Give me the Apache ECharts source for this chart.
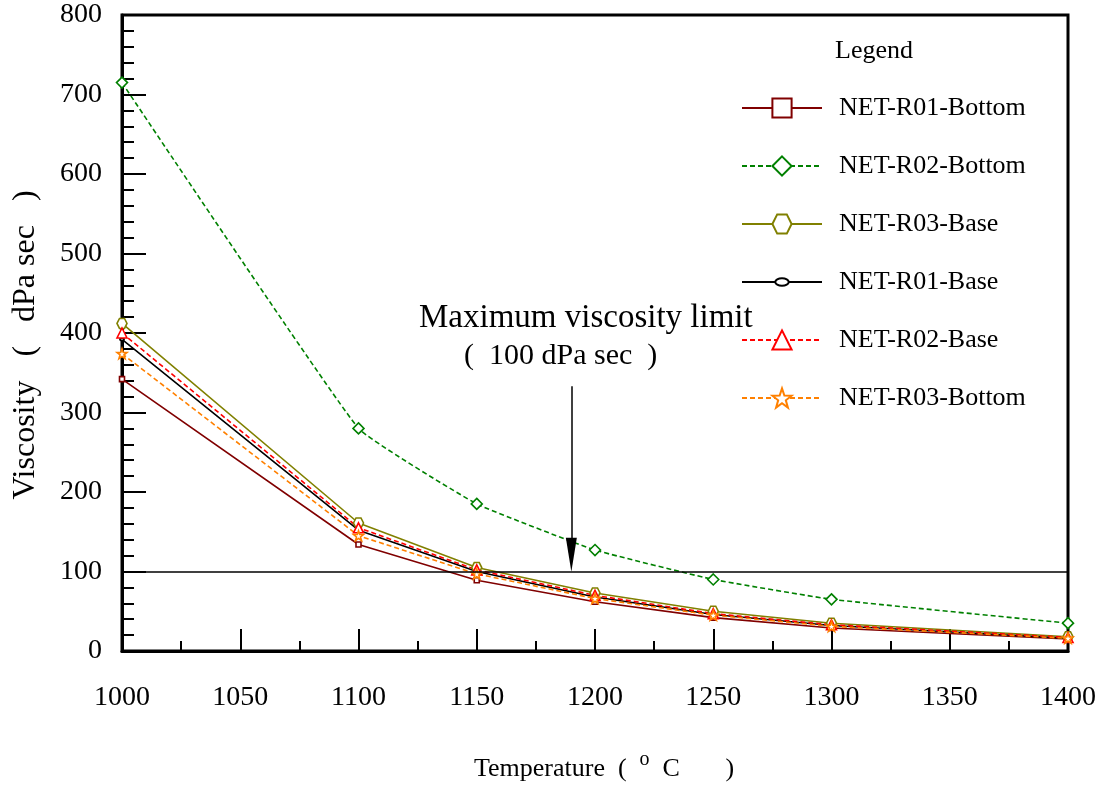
<!DOCTYPE HTML>
<html lang="en">

<head>
	<meta charset="utf-8">
	<title>Viscosity vs Temperature</title>
	<style>
		html, body { margin: 0; padding: 0; background: #fff; }
		#main { width: 1105px; height: 787px; }
	</style>
</head>

<body>
	<div id="main"></div>

	<script src="https://cdn.jsdelivr.net/npm/echarts@6/dist/echarts.min.js"></script>

	<script>
		// temperatures (deg C) where the samples were measured
		var temps = [1000, 1100, 1150, 1200, 1250, 1300, 1400];

		// viscosity (dPa sec) for each sample
		var r01Bottom = [342, 134, 89, 62, 42, 29, 15];
		var r02Bottom = [715, 280, 185, 127, 90, 65, 35];
		var r03Base = [412, 161, 105, 73, 50, 35, 18];
		var r01Base = [392, 152, 100, 68, 46, 32, 16];
		var r02Base = [400, 155, 102, 70, 47, 33, 17];
		var r03Bottom = [374, 145, 97, 66, 45, 31, 16];

		var names = ['NET-R01-Bottom', 'NET-R02-Bottom', 'NET-R03-Base', 'NET-R01-Base', 'NET-R02-Base', 'NET-R03-Bottom'];

		var hexagon = 'path://M-10,0L-5,-8.66L5,-8.66L10,0L5,8.66L-5,8.66Z';
		var star = 'path://M0,-10L2.35,-3.24L9.51,-3.09L3.8,1.24L5.88,8.09L0,4L-5.88,8.09L-3.8,1.24L-9.51,-3.09L-2.35,-3.24Z';
		var ellipse = 'path://M-10,-10M10,10M-7,0A7,4,0,1,1,7,0A7,4,0,1,1,-7,0Z';

		function pairs(vals) {
			return temps.map(function (t, i) { return [t, vals[i]]; });
		}

		function line(name, vals, color, dashed, symbol, size, smooth) {
			return {
				name: name,
				type: 'line',
				data: pairs(vals),
				smooth: smooth || false,
				symbol: symbol,
				symbolSize: size,
				showAllSymbol: true,
				lineStyle: { color: color, width: 1.6, type: dashed ? [5, 3] : 'solid' },
				itemStyle: { color: '#fff', borderColor: color, borderWidth: 1.6 }
			};
		}

		var chart = echarts.init(document.getElementById('main'));

		var serif = 'Liberation Serif';

		var series = [
			line(names[0], r01Bottom, '#800000', false, 'rect', 5),
			line(names[1], r02Bottom, '#008000', true, 'diamond', 11, 0.1),
			line(names[2], r03Base, '#808000', false, hexagon, 10),
			line(names[3], r01Base, '#000000', false, ellipse, 6),
			line(names[4], r02Base, '#ff0000', true, 'triangle', 10),
			line(names[5], r03Bottom, '#ff8000', true, star, 10)
		];

		// 100 dPa sec limit line and the arrow pointing at it
		series[0].markLine = {
			silent: true,
			symbol: ['none', 'none'],
			label: { show: false },
			lineStyle: { color: '#000', type: 'solid', width: 1.5 },
			data: [
				{ yAxis: 100 },
				[
					{ coord: [1190, 333], symbol: 'none' },
					{ coord: [1190, 121], symbol: 'triangle', symbolSize: [11, 34] }
				]
			]
		};

		chart.setOption({
			animation: false,
			textStyle: { fontFamily: serif, color: '#000' },
			grid: {
				left: 122, top: 15, width: 946, height: 643,
				show: true, borderColor: '#000', borderWidth: 3
			},
			legend: {
				orient: 'vertical',
				left: 741, top: 95, padding: 0,
				itemWidth: 80, itemHeight: 24, itemGap: 32,
				textStyle: { fontFamily: serif, fontSize: 26, color: '#000', padding: [0, 0, 0, 12] },
				data: names
			},
			graphic: [
				{ type: 'text', left: 835, top: 38, style: { text: 'Legend', font: '26px "Liberation Serif"', fill: '#000' } },
				{ type: 'text', left: 419, top: 302, style: { text: 'Maximum viscosity limit', font: '33px "Liberation Serif"', fill: '#000' } },
				{ type: 'text', left: 464, top: 341, style: { text: '(  100 dPa sec  )', font: '30px "Liberation Serif"', fill: '#000' } }
			],
			xAxis: {
				type: 'value',
				min: 1000, max: 1400, interval: 50,
				name: 'Temperature  (  {s|o}  C       )',
				nameLocation: 'middle',
				nameGap: 99,
				nameTextStyle: {
					fontFamily: serif, fontSize: 26, color: '#000', padding: [0, 0, 0, 18],
					rich: { s: { fontFamily: serif, fontSize: 20, padding: [0, 0, 18, 0] } }
				},
				axisLine: { lineStyle: { color: '#000', width: 3 } },
				axisTick: { inside: true, length: 22, lineStyle: { color: '#000', width: 2 } },
				minorTick: { show: true, splitNumber: 2, length: 10, lineStyle: { color: '#000', width: 2 } },
				axisLabel: {
					fontFamily: serif, fontSize: 28, color: '#000', margin: 33,
					formatter: function (v) { return String(v); }
				},
				splitLine: { show: false }
			},
			yAxis: {
				type: 'value',
				min: 0, max: 800, interval: 100,
				name: 'Viscosity   (   dPa sec   )',
				nameLocation: 'middle',
				nameGap: 80,
				nameTextStyle: { fontFamily: serif, fontSize: 32, color: '#000', padding: [0, 24, 0, 0] },
				axisLine: { lineStyle: { color: '#000', width: 3 } },
				axisTick: { inside: true, length: 24, lineStyle: { color: '#000', width: 2 } },
				minorTick: { show: true, splitNumber: 5, length: 12, lineStyle: { color: '#000', width: 2 } },
				axisLabel: { fontFamily: serif, fontSize: 28, color: '#000', margin: 20 },
				splitLine: { show: false }
			},
			series: series
		});
	</script>
</body>

</html>
